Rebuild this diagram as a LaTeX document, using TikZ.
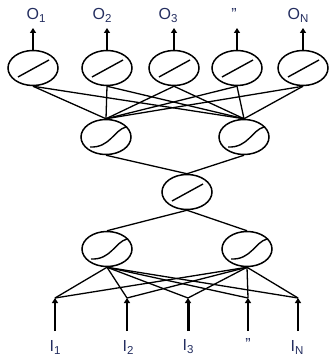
\documentclass[tikz,border=0pt]{standalone}
\usepackage{fontspec}
\setmainfont{Liberation Sans}
\usetikzlibrary{shapes.geometric,arrows.meta}
\definecolor{labc}{RGB}{35,45,95}
\newcommand\lab[2]{#1\raisebox{-3pt}{\fontsize{11.5}{11.5}\selectfont #2}}
\begin{document}
\begin{tikzpicture}[x=1pt,y=-1pt,
  neuron/.style={ellipse,draw,line width=1.5pt,minimum width=50pt,minimum height=35pt,inner sep=0pt},
  lin/.style={neuron,path picture={\draw[line width=1.4pt]
    ([shift={(-15pt,-9pt)}]path picture bounding box.center) --
    ([shift={(16pt,8pt)}]path picture bounding box.center);}},
  sig/.style={neuron,path picture={\draw[line width=1.4pt]
    ([shift={(-16pt,-10pt)}]path picture bounding box.center) .. controls
    ([shift={(4pt,-11pt)}]path picture bounding box.center) and
    ([shift={(8pt,7pt)}]path picture bounding box.center) ..
    ([shift={(20pt,10pt)}]path picture bounding box.center);}},
  conn/.style={line width=1.3pt},
  outarrow/.style={line width=2pt,-{Triangle[length=5pt,width=6pt]}},
  inarrow/.style={line width=2pt,-{Triangle[length=5pt,width=6pt]}},
  lbl/.style={text=labc,font=\fontsize{16}{16}\selectfont,inner sep=0pt}]
\useasboundingbox (0,0) rectangle (331,355);
% output layer
\node[lin] (o1) at (33,68) {};
\node[lin] (o2) at (107,68) {};
\node[lin] (o3) at (174,68) {};
\node[lin] (o4) at (237,68) {};
\node[lin] (o5) at (303,68) {};
% hidden layers
\node[sig] (h1) at (106,137) {};
\node[sig] (h2) at (244,137) {};
\node[lin] (m) at (187,192) {};
\node[sig] (g1) at (107,249) {};
\node[sig] (g2) at (247,249) {};
% output arrow tips
\coordinate (p1) at (33,28);
\coordinate (p2) at (107,28);
\coordinate (p3) at (174,28);
\coordinate (p4) at (237,28);
\coordinate (p5) at (303,28);
% input tips and bases
\coordinate (t1) at (55,298);
\coordinate (t2) at (127,298);
\coordinate (t3) at (188,298);
\coordinate (t4) at (248,298);
\coordinate (t5) at (298,298);
\coordinate (b1) at (55,331);
\coordinate (b2) at (127,331);
\coordinate (b3) at (188,331);
\coordinate (b4) at (248,331);
\coordinate (b5) at (298,331);
% connections
\foreach \o in {o1,o2,o3,o4,o5}{
  \draw[conn] (\o.south) -- (h1.north);
  \draw[conn] (\o.south) -- (h2.north);
}
\draw[conn] (h1.south) -- (m.north);
\draw[conn] (h2.south) -- (m.north);
\draw[conn] (m.south) -- (g1.north);
\draw[conn] (m.south) -- (g2.north);
\foreach \t in {t1,t2,t3,t4,t5}{
  \draw[conn] (g1.south) -- (\t);
  \draw[conn] (g2.south) -- (\t);
}
% arrows
\foreach \i in {1,...,5}{
  \draw[outarrow] (o\i.north) -- (p\i);
}
\draw[inarrow] (b1) -- (t1);
\draw[inarrow] (b2) -- (t2);
\draw[inarrow,line width=3pt] (b3) -- (t3);
\draw[inarrow] (b4) -- (t4);
\draw[inarrow] (b5) -- (t5);
% labels
\node[lbl] (lo1) at (36,15) {\lab{O}{1}};
\node[lbl] (lo2) at (102,15) {\lab{O}{2}};
\node[lbl] (lo3) at (168,15) {\lab{O}{3}};
\node[lbl] (lo4) at (234,14) {"};
\node[lbl] (lo5) at (298,15) {\lab{O}{N}};
\node[lbl] (li1) at (55,347) {\lab{I}{1}};
\node[lbl] (li2) at (128,347) {\lab{I}{2}};
\node[lbl] (li3) at (188,347) {\lab{I}{3}};
\node[lbl] (li4) at (248,344) {"};
\node[lbl] (li5) at (297,347) {\lab{I}{N}};
\end{tikzpicture}
\end{document}
